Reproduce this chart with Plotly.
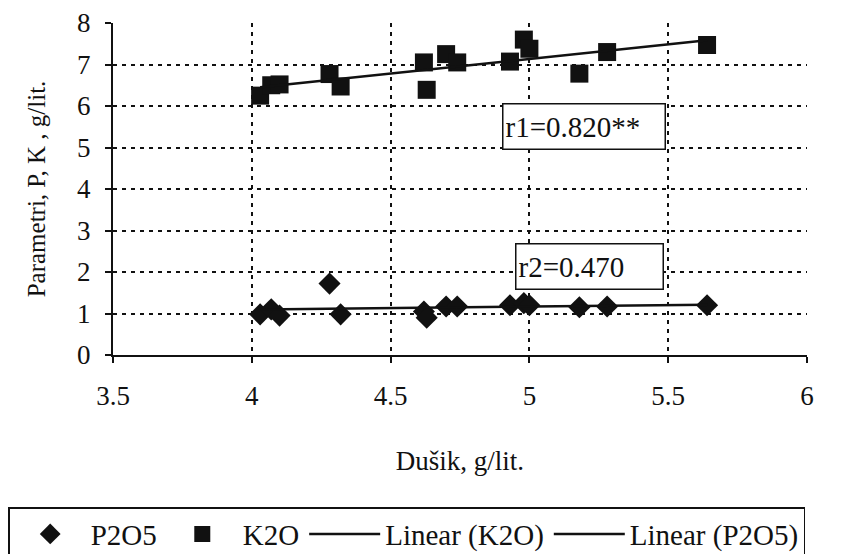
import numpy as np
import plotly.graph_objects as go

# Data
dusik = [4.03, 4.07, 4.10, 4.28, 4.32, 4.62, 4.63, 4.70, 4.74, 4.93, 4.98, 5.00, 5.18, 5.28, 5.64]
p2o5 = [0.98, 1.10, 0.95, 1.72, 0.98, 1.05, 0.90, 1.17, 1.17, 1.20, 1.25, 1.20, 1.15, 1.17, 1.20]
k2o = [6.25, 6.50, 6.52, 6.77, 6.47, 7.05, 6.39, 7.25, 7.05, 7.07, 7.60, 7.38, 6.78, 7.30, 7.47]

x_ticks = [3.5, 4, 4.5, 5, 5.5, 6]
x_tick_labels = ["3.5", "4", "4.5", "5", "5.5", "6"]
y_ticks = [0, 1, 2, 3, 4, 5, 6, 7, 8]
y_tick_labels = ["0", "1", "2", "3", "4", "5", "6", "7", "8"]

series_names = ["P2O5", "K2O", "Linear (K2O)", "Linear (P2O5)"]
r_labels = ["r1=0.820**", "r2=0.470"]

FONT = "Liberation Serif"
INK = "#111111"

xs = np.array(dusik)
order = np.argsort(xs)
xs_sorted = xs[order]
k_fit = np.polyval(np.polyfit(xs, np.array(k2o), 1), xs_sorted)
p_fit = np.polyval(np.polyfit(xs, np.array(p2o5), 1), xs_sorted)

fig = go.Figure()
fig.add_trace(go.Scatter(x=dusik, y=p2o5, mode="markers", name=series_names[0],
                         marker=dict(symbol="diamond", size=17, color=INK)))
fig.add_trace(go.Scatter(x=dusik, y=k2o, mode="markers", name=series_names[1],
                         marker=dict(symbol="square", size=18, color=INK)))
fig.add_trace(go.Scatter(x=xs_sorted, y=k_fit, mode="lines", name=series_names[2],
                         line=dict(color=INK, width=2.5)))
fig.add_trace(go.Scatter(x=xs_sorted, y=p_fit, mode="lines", name=series_names[3],
                         line=dict(color=INK, width=2.5)))

ann_font = dict(family=FONT, size=29, color=INK)
fig.add_annotation(x=5.198, y=5.5, xref="x", yref="y", text=r_labels[0], showarrow=False,
                   font=ann_font, align="left", width=157, height=40, borderpad=2,
                   bordercolor=INK, borderwidth=1.5, bgcolor="white")
fig.add_annotation(x=5.215, y=2.14, xref="x", yref="y", text=r_labels[1], showarrow=False,
                   font=ann_font, align="left", width=142, height=40, borderpad=2,
                   bordercolor=INK, borderwidth=1.5, bgcolor="white")

fig.update_xaxes(range=[3.5, 6], tickvals=x_ticks, ticktext=x_tick_labels,
                 showline=True, linecolor=INK, linewidth=2,
                 ticks="outside", ticklen=6, tickwidth=2, tickcolor=INK,
                 ticklabelstandoff=10,
                 showgrid=True, gridcolor=INK, gridwidth=1.5, griddash="4px,5px",
                 zeroline=False,
                 tickfont=dict(family=FONT, size=27, color=INK),
                 title=dict(text="Dušik, g/lit.", font=dict(family=FONT, size=27, color=INK), standoff=41))
fig.update_yaxes(range=[0, 8], tickvals=y_ticks, ticktext=y_tick_labels,
                 showline=True, linecolor=INK, linewidth=2,
                 ticks="outside", ticklen=6, tickwidth=2, tickcolor=INK,
                 ticklabelstandoff=9,
                 showgrid=True, gridcolor=INK, gridwidth=1.5, griddash="4px,5px",
                 zeroline=False,
                 tickfont=dict(family=FONT, size=27, color=INK),
                 title=dict(text="Parametri, P, K , g/lit.", font=dict(family=FONT, size=25, color=INK), standoff=24))

fig.update_layout(
    width=836, height=546,
    margin=dict(l=105, r=37, t=15, b=199, autoexpand=False),
    paper_bgcolor="white", plot_bgcolor="white",
    showlegend=True,
    legend=dict(orientation="h", x=-0.151, y=-0.458, xanchor="left", yanchor="top",
                bordercolor=INK, borderwidth=1.5, bgcolor="white",
                itemwidth=71, font=dict(family=FONT, size=29, color=INK)),
)

fig.write_html("out.html")
